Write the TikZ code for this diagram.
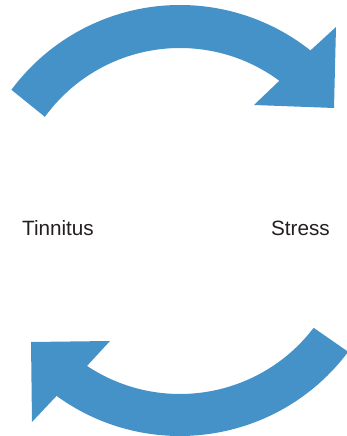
\documentclass[tikz,border=0pt]{standalone}
\usepackage{fontspec}
\setmainfont{Liberation Sans}
\usetikzlibrary{calc}
\definecolor{cycleblue}{RGB}{68,146,200}
\definecolor{labelgray}{RGB}{35,31,32}
\begin{document}
\begin{tikzpicture}[x=1pt,y=1pt,
  cyclearrow/.style={fill=cycleblue,draw=none},
  cyclelabel/.style={anchor=base,text=labelgray,inner sep=0pt,font=\fontsize{20.7}{24}\selectfont}]
\useasboundingbox (0,0) rectangle (346,436);

% upper arrow: from the left, over the top, head pointing down-right
\fill[cyclearrow] (180,221) ++(143.4:210pt)
  arc[start angle=143.4,end angle=51.6,radius=210pt]
  -- (336,409) -- (334,328) -- (254,331)
  -- ($(180,221)+(53.5:167pt)$)
  arc[start angle=53.5,end angle=144,radius=167pt] -- cycle;

% lower arrow: from the right, under the bottom, head pointing up-left
\fill[cyclearrow] (180,210) ++(-36.8:210pt)
  arc[start angle=-36.8,end angle=-126,radius=210pt]
  -- (32,14) -- (31,94) -- (110,95)
  -- ($(180,210)+(-123.6:168pt)$)
  arc[start angle=-123.6,end angle=-37.3,radius=168pt] -- cycle;

\node[cyclelabel] (tinnitus) at (58,200) {Tinnitus};
\node[cyclelabel] (stress) at (300.5,200) {Stress};
\end{tikzpicture}
\end{document}
